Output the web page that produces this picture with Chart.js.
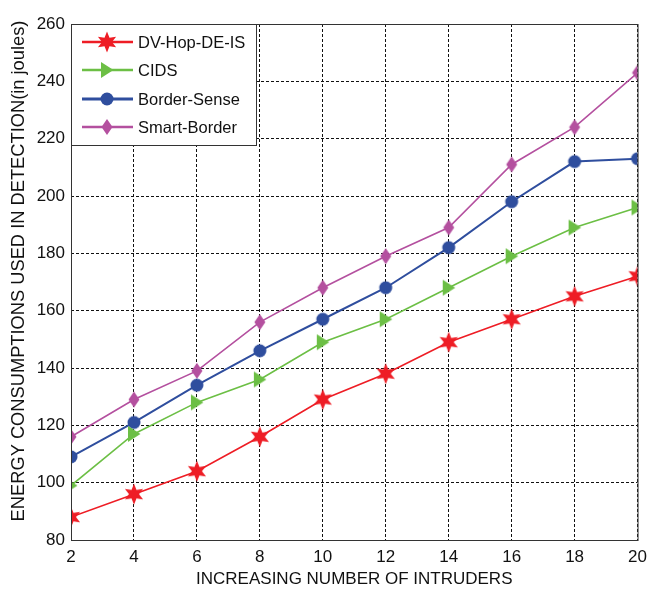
<!DOCTYPE html>
<html>
<head>
<meta charset="utf-8">
<script src="https://cdn.jsdelivr.net/npm/chart.js@4.4.0/dist/chart.umd.min.js"></script>
<style>
  html, body { margin: 0; padding: 0; background: #fff; }
</style>
</head>
<body>
<canvas id="chart" width="654" height="590"></canvas>
<script>
// data
const intruders = [2, 4, 6, 8, 10, 12, 14, 16, 18, 20];
const dvHopDeIs = [88, 96, 104, 116, 129, 138, 149, 157, 165, 172];
const cids = [99, 117, 128, 136, 149, 157, 168, 179, 189, 196];
const borderSense = [109, 121, 134, 146, 157, 168, 182, 198, 212, 213];
const smartBorder = [116, 129, 139, 156, 168, 179, 189, 211, 224, 243];
const seriesNames = ['DV-Hop-DE-IS', 'CIDS', 'Border-Sense', 'Smart-Border'];
const yMin = 80, yMax = 260, yStep = 20;
const xTitle = 'INCREASING NUMBER OF INTRUDERS';
const yTitle = 'ENERGY CONSUMPTIONS USED IN DETECTION(in joules)';

const FONT = '"Liberation Sans", Arial, sans-serif';

// marker images (star, right triangle, circle, diamond)
function makeMarker(kind, color) {
  const c = document.createElement('canvas');
  c.width = 24; c.height = 24;
  const g = c.getContext('2d');
  g.fillStyle = color;
  g.beginPath();
  if (kind === 'star') {
    for (let i = 0; i < 12; i++) {
      const r = i % 2 === 0 ? 10.5 : 5;
      const a = -Math.PI / 2 + i * Math.PI / 6;
      const px = 12 + r * Math.cos(a), py = 12 + r * Math.sin(a);
      i === 0 ? g.moveTo(px, py) : g.lineTo(px, py);
    }
  } else if (kind === 'tri') {
    g.moveTo(6, 4); g.lineTo(18.5, 12); g.lineTo(6, 20);
  } else if (kind === 'circle') {
    g.arc(12, 12, 6.5, 0, Math.PI * 2);
  } else if (kind === 'diamond') {
    g.moveTo(12, 4); g.lineTo(17.5, 12); g.lineTo(12, 20); g.lineTo(6.5, 12);
  }
  g.closePath();
  g.fill();
  return c;
}

const colors = ['#ee1d25', '#6cbf45', '#2f4e9e', '#b4509f'];
const markers = [
  makeMarker('star', colors[0]),
  makeMarker('tri', colors[1]),
  makeMarker('circle', colors[2]),
  makeMarker('diamond', colors[3]),
];
const lineWidths = [1.6, 1.6, 2, 1.6];
const allValues = [dvHopDeIs, cids, borderSense, smartBorder];

const datasets = allValues.map((vals, i) => ({
  label: seriesNames[i],
  data: intruders.map((x, j) => ({ x: x, y: vals[j] })),
  borderColor: colors[i],
  backgroundColor: colors[i],
  borderWidth: lineWidths[i],
  pointStyle: markers[i],
  pointRadius: 8,
  tension: 0,
}));

// box frame, y title and MATLAB-like legend in the top left corner
const boxAndLegend = {
  id: 'boxAndLegend',
  afterDraw(chart) {
    const { ctx, chartArea: a } = chart;
    ctx.save();
    ctx.strokeStyle = '#333';
    ctx.lineWidth = 1;
    ctx.setLineDash([]);
    ctx.strokeRect(a.left + 0.5, a.top + 0.5, a.right - a.left, a.bottom - a.top);

    // rotated y title
    ctx.save();
    ctx.translate(19, 271);
    ctx.rotate(-Math.PI / 2);
    ctx.font = '18.3px ' + FONT;
    ctx.fillStyle = '#111';
    ctx.textAlign = 'center';
    ctx.textBaseline = 'middle';
    ctx.fillText(yTitle, 0, 0);
    ctx.restore();

    const lx = a.left, ly = a.top, lw = 185, lh = 121;
    ctx.fillStyle = '#fff';
    ctx.fillRect(lx, ly, lw, lh);
    ctx.strokeStyle = '#333';
    ctx.strokeRect(lx + 0.5, ly + 0.5, lw, lh);
    ctx.font = '16.5px ' + FONT;
    ctx.textBaseline = 'middle';
    const rows = [42, 70, 99, 127];
    chart.data.datasets.forEach((ds, i) => {
      const y = rows[i];
      ctx.strokeStyle = ds.borderColor;
      ctx.lineWidth = ds.borderWidth + 1;
      ctx.beginPath();
      ctx.moveTo(lx + 11, y);
      ctx.lineTo(lx + 62, y);
      ctx.stroke();
      ctx.drawImage(ds.pointStyle, lx + 36 - 12, y - 12);
      ctx.fillStyle = '#111';
      ctx.fillText(ds.label, lx + 67, y + 1);
    });
    ctx.restore();
  },
};

new Chart(document.getElementById('chart'), {
  type: 'line',
  data: { datasets: datasets },
  options: {
    responsive: false,
    animation: false,
    layout: { padding: { left: 0, right: 11, top: 24, bottom: 0 } },
    plugins: { legend: { display: false }, tooltip: { enabled: false } },
    scales: {
      x: {
        type: 'linear',
        min: 2,
        max: 20,
        afterBuildTicks: (s) => { s.ticks = intruders.map((v) => ({ value: v })); },
        afterFit: (s) => { s.height = 50; },
        grid: { color: '#111', lineWidth: 1, drawTicks: false },
        border: { display: false, dash: [3, 2] },
        ticks: { color: '#111', font: { family: FONT, size: 17 }, padding: 7, maxRotation: 0 },
        title: {
          display: true,
          text: xTitle,
          color: '#111',
          font: { family: FONT, size: 17 },
          padding: { top: 0, bottom: 0 },
        },
      },
      y: {
        min: yMin,
        max: yMax,
        afterFit: (s) => { s.width = 71; },
        grid: { color: '#111', lineWidth: 1, drawTicks: false },
        border: { display: false, dash: [3, 2] },
        ticks: { stepSize: yStep, color: '#111', font: { family: FONT, size: 17 }, padding: 6 },
      },
    },
  },
  plugins: [boxAndLegend],
});
</script>
</body>
</html>
